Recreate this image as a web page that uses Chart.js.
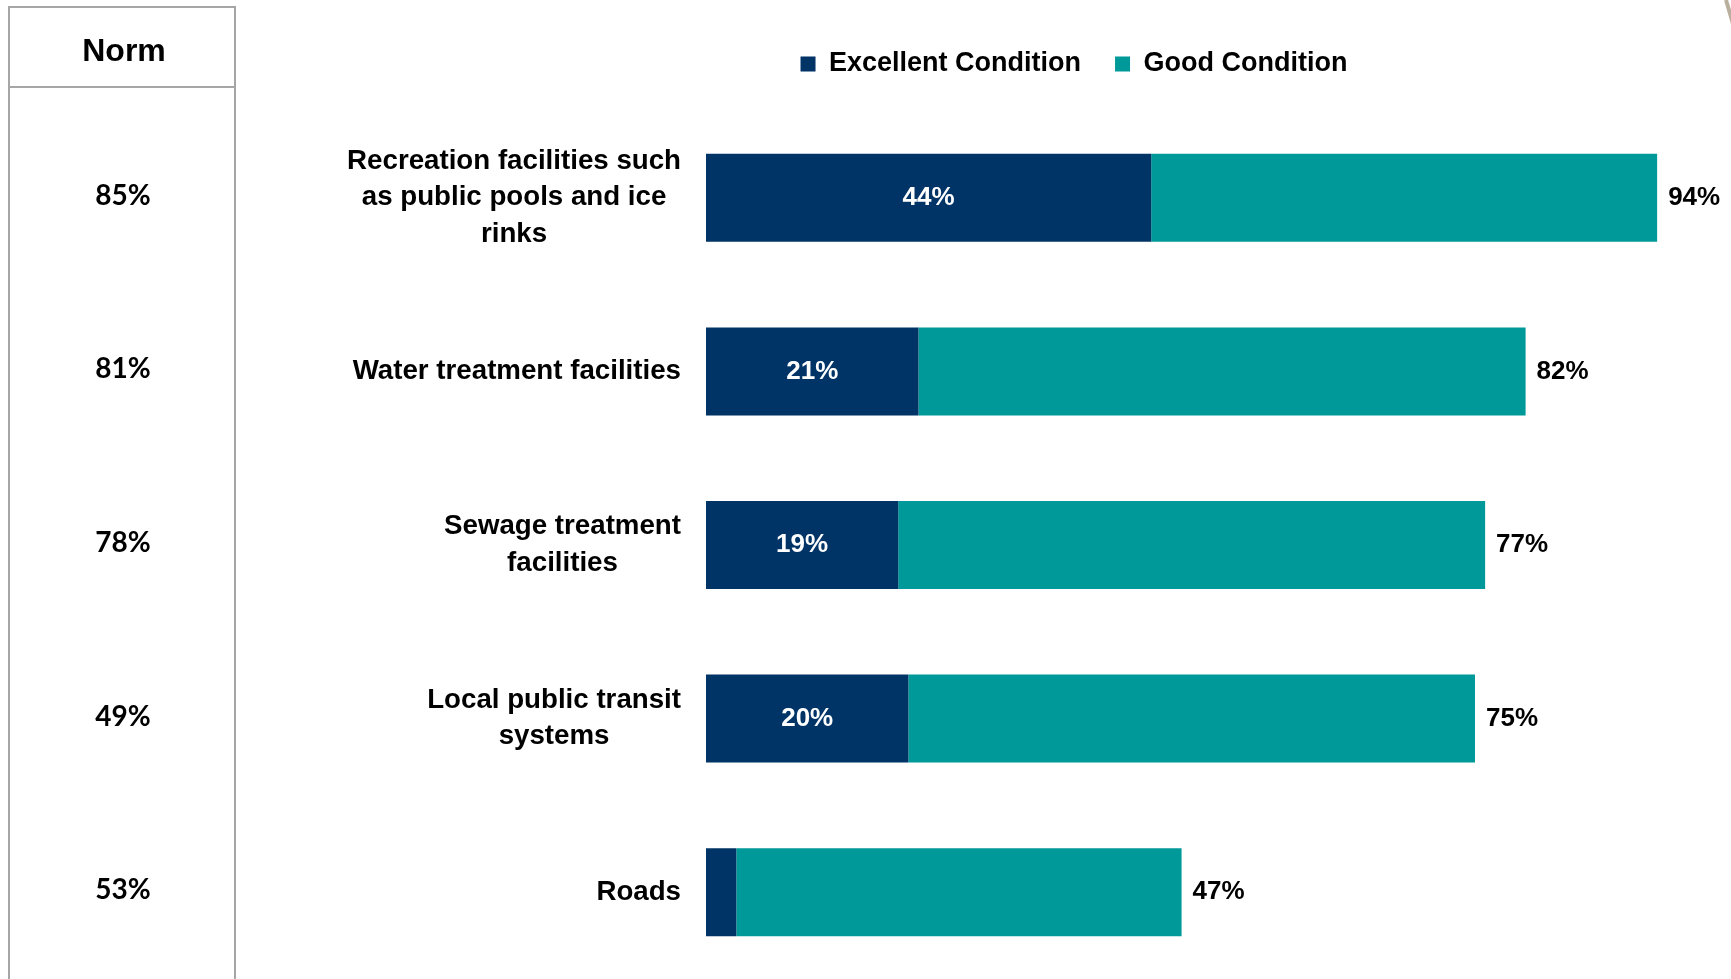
<!DOCTYPE html>
<html>
<head>
<meta charset="utf-8">
<script src="https://cdn.jsdelivr.net/npm/chart.js@4.4.1/dist/chart.umd.min.js"></script>
<style>
  html, body { margin: 0; padding: 0; background: #fff; overflow: hidden; }
  #chart { display: block; }
</style>
</head>
<body>
<canvas id="chart" width="1731" height="979"></canvas>
<script>
const categories = [
  ['Recreation facilities such', 'as public pools and ice', 'rinks'],
  ['Water treatment facilities'],
  ['Sewage treatment', 'facilities'],
  ['Local public transit', 'systems'],
  ['Roads']
];
const excellent = [44, 21, 19, 20, 3];
const good = [50, 60, 58, 56, 44];
const totals = [94, 82, 77, 75, 47];
const norms = [85, 81, 78, 49, 53];

const NAVY = '#003366';
const TEAL = '#009999';
const ARIAL = '"Liberation Sans", Arial, sans-serif';

// legend height fixed so the bars start where they do in the slide
const legendHeight = {
  id: 'legendHeight',
  beforeInit(chart) {
    const fit = chart.legend.fit;
    chart.legend.fit = function () {
      fit.bind(chart.legend)();
      this.height = 94.5;
    };
  }
};

const normColumn = {
  id: 'normColumn',
  beforeDraw(chart) {
    const ctx = chart.ctx;
    const y = chart.scales.y;
    ctx.save();
    ctx.strokeStyle = '#a6a6a6';
    ctx.lineWidth = 2;
    ctx.beginPath();
    ctx.moveTo(9, 979); ctx.lineTo(9, 7); ctx.lineTo(235, 7); ctx.lineTo(235, 979);
    ctx.moveTo(9, 87); ctx.lineTo(235, 87);
    ctx.stroke();

    // bit of slide decoration in the corner
    ctx.strokeStyle = '#b9af9c';
    ctx.lineWidth = 4;
    ctx.beginPath();
    ctx.moveTo(1726, 0);
    ctx.quadraticCurveTo(1729, 10, 1733, 24);
    ctx.stroke();

    ctx.fillStyle = '#000';
    ctx.textAlign = 'center';
    ctx.textBaseline = 'middle';
    ctx.font = 'bold 32px ' + ARIAL;
    ctx.fillText('Norm', 124, 52);
    ctx.font = 'bold 28px Lato, sans-serif';
    norms.forEach((v, i) => ctx.fillText(v + '%', 123, y.getPixelForValue(i) - 2));
    ctx.restore();
  }
};

const barText = {
  id: 'barText',
  afterDraw(chart) {
    const ctx = chart.ctx;
    const y = chart.scales.y;
    ctx.save();
    ctx.textBaseline = 'middle';

    // category names: block right aligned, lines centred within it
    ctx.font = 'bold 27.7px ' + ARIAL;
    ctx.fillStyle = '#000';
    ctx.textAlign = 'center';
    const right = chart.chartArea.left - 25;
    categories.forEach((lines, i) => {
      const w = Math.max(...lines.map(l => ctx.measureText(l).width));
      const cx = right - w / 2;
      const cy = y.getPixelForValue(i);
      lines.forEach((l, k) => ctx.fillText(l, cx, cy + (k - (lines.length - 1) / 2) * 36.5));
    });

    ctx.font = 'bold 26px ' + ARIAL;
    ctx.fillStyle = '#fff';
    chart.getDatasetMeta(0).data.forEach((bar, i) => {
      if (excellent[i] >= 10) ctx.fillText(excellent[i] + '%', (bar.x + bar.base) / 2, bar.y);
    });
    ctx.fillStyle = '#000';
    ctx.textAlign = 'left';
    chart.getDatasetMeta(1).data.forEach((bar, i) => {
      ctx.fillText(totals[i] + '%', bar.x + 11, bar.y);
    });
    ctx.restore();
  }
};

new Chart(document.getElementById('chart'), {
  type: 'bar',
  data: {
    labels: categories,
    datasets: [
      { label: 'Excellent Condition', data: excellent, backgroundColor: NAVY },
      { label: 'Good Condition', data: good, backgroundColor: TEAL }
    ]
  },
  options: {
    indexAxis: 'y',
    responsive: false,
    animation: false,
    devicePixelRatio: 1,
    layout: { padding: { left: 417, top: 16.5, right: 0, bottom: 0 } },
    datasets: { bar: { barPercentage: 0.507, categoryPercentage: 1 } },
    scales: {
      x: { stacked: true, display: false, min: 0, max: 101.3 },
      y: {
        stacked: true,
        grid: { display: false, drawTicks: false },
        border: { display: false },
        ticks: { display: false },
        afterFit(s) { s.width = 289; }
      }
    },
    plugins: {
      legend: {
        position: 'top',
        labels: {
          boxWidth: 15,
          boxHeight: 15,
          padding: 34,
          color: '#000',
          font: { family: ARIAL, size: 27, weight: 'bold' }
        }
      },
      tooltip: { enabled: false }
    }
  },
  plugins: [legendHeight, normColumn, barText]
});
</script>
</body>
</html>
